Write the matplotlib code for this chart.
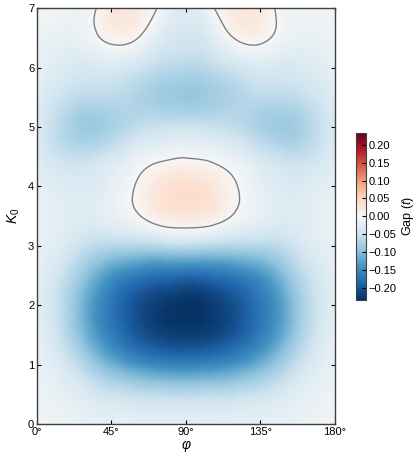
import numpy as np
import matplotlib
matplotlib.use("Agg")
import matplotlib.pyplot as plt
import matplotlib.tri as mtri

plt.rcParams['font.family'] = ['Liberation Sans', 'DejaVu Sans']
plt.rcParams['mathtext.fontset'] = 'custom'
plt.rcParams['mathtext.rm'] = 'Liberation Sans'
plt.rcParams['mathtext.it'] = 'Liberation Sans:italic'

# grid
phi = [0, 15, 30, 45, 60, 75, 90, 105, 120, 135, 150, 165, 180]
k0 = [0.0, 0.5, 1.0, 1.5, 2.0, 2.5, 3.0, 3.5, 4.0, 4.5, 5.0, 5.5, 6.0, 6.5, 7.0]

# gap values, one row per K0, left half up to phi=90 (field is symmetric about 90)
gap_half = [
    [-0.010, -0.012, -0.016, -0.020, -0.022, -0.023, -0.023],
    [-0.012, -0.020, -0.034, -0.048, -0.056, -0.060, -0.062],
    [-0.016, -0.036, -0.072, -0.110, -0.136, -0.150, -0.155],
    [-0.020, -0.055, -0.110, -0.160, -0.195, -0.214, -0.220],
    [-0.022, -0.060, -0.118, -0.168, -0.202, -0.222, -0.229],
    [-0.021, -0.050, -0.095, -0.138, -0.162, -0.175, -0.180],
    [-0.017, -0.032, -0.055, -0.066, -0.068, -0.064, -0.060],
    [-0.015, -0.025, -0.030, -0.020, -0.004, 0.018, 0.025],
    [-0.020, -0.030, -0.034, -0.020, 0.002, 0.028, 0.040],
    [-0.028, -0.050, -0.054, -0.040, -0.020, -0.007, -0.002],
    [-0.032, -0.065, -0.085, -0.075, -0.058, -0.050, -0.048],
    [-0.026, -0.050, -0.062, -0.062, -0.070, -0.082, -0.088],
    [-0.018, -0.032, -0.038, -0.034, -0.045, -0.060, -0.066],
    [-0.012, -0.018, -0.012, 0.008, 0.002, -0.030, -0.044],
    [-0.008, -0.010, -0.012, 0.022, 0.024, -0.006, -0.032],
]
gap = np.array([row + row[-2::-1] for row in gap_half])

P, K = np.meshgrid(phi, k0)
tri = mtri.Triangulation(P.ravel(), K.ravel())
refiner = mtri.UniformTriRefiner(tri)
tri_f, gap_f = refiner.refine_field(gap.ravel(), subdiv=4)

fig = plt.figure(figsize=(4.16, 4.57), dpi=100)
ax = fig.add_axes([0.089, 0.072, 0.716, 0.910])
vmax = 0.233
im = ax.tripcolor(tri_f, gap_f, shading='gouraud', cmap='RdBu_r', vmin=-vmax, vmax=vmax)
ax.tricontour(tri_f, gap_f, levels=[0], colors='#808080', linewidths=1.0)

ax.set_xlim(0, 180)
ax.set_ylim(0, 7)
ax.set_xticks([0, 45, 90, 135, 180])
ax.set_xticklabels(['0°', '45°', '90°', '135°', '180°'])
ax.set_yticks(range(8))
ax.tick_params(direction='in', top=True, right=True, labelsize=8, length=3, pad=2)
ax.set_xlabel(r'$\varphi$', fontsize=10, labelpad=1)
ax.set_ylabel(r'$K_0$', fontsize=10, labelpad=4)
for s in ax.spines.values():
    s.set_color('#404040')
    s.set_linewidth(1.0)

cax = fig.add_axes([0.856, 0.344, 0.024, 0.365])
cb = fig.colorbar(im, cax=cax)
cb.set_ticks([-0.20, -0.15, -0.10, -0.05, 0.00, 0.05, 0.10, 0.15, 0.20])
cb.ax.tick_params(direction='in', labelsize=8, length=3, pad=2)
cb.set_label(r'Gap ($t$)', fontsize=9, labelpad=2)
cb.outline.set_edgecolor('#404040')

fig.savefig('out.png', dpi=100)
